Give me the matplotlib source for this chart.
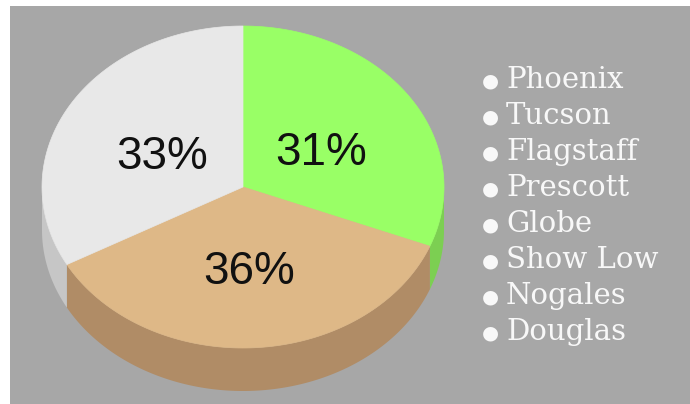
import numpy as np
import matplotlib.pyplot as plt
from matplotlib.patches import Polygon, Rectangle

# --- data ---
slice_values = [31, 36, 33]
slice_top_colors = ['#99ff66', '#deb887', '#e8e8e8']
slice_side_colors = ['#7ccf52', '#b08c66', '#c6c6c6']
legend_names = ['Phoenix', 'Tucson', 'Flagstaff', 'Prescott', 'Globe',
                'Show Low', 'Nogales', 'Douglas']

# --- layout (pixel space) ---
W, H = 690, 404
cx, cy = 243, 187
rx, ry = 201, 161
depth = 43

fig = plt.figure(figsize=(W / 100, H / 100), dpi=100)
fig.patch.set_facecolor('white')
ax = fig.add_axes([0, 0, 1, 1])
ax.set_xlim(0, W)
ax.set_ylim(H, 0)
ax.axis('off')

ax.add_patch(Rectangle((10, 6), W - 10, H - 6, facecolor='#a7a7a7', edgecolor='none'))


def ellipse_pts(t0, t1, dy=0, n=120):
    t = np.linspace(t0, t1, n)
    return np.column_stack([cx + rx * np.sin(t), cy - ry * np.cos(t) + dy])


# angles clockwise from 12 o'clock
fracs = np.array(slice_values) / sum(slice_values)
edges = np.concatenate([[0], np.cumsum(fracs)]) * 2 * np.pi

# sides (front half only: pi/2 .. 3pi/2)
for i in range(len(slice_values)):
    a0 = max(edges[i], np.pi / 2)
    a1 = min(edges[i + 1], 3 * np.pi / 2)
    if a1 <= a0:
        continue
    top = ellipse_pts(a0, a1)
    bot = ellipse_pts(a1, a0, dy=depth)
    ax.add_patch(Polygon(np.vstack([top, bot]), closed=True,
                         facecolor=slice_side_colors[i], edgecolor='none'))

# top faces
for i in range(len(slice_values)):
    arc = ellipse_pts(edges[i], edges[i + 1])
    pts = np.vstack([[cx, cy], arc])
    ax.add_patch(Polygon(pts, closed=True, facecolor=slice_top_colors[i],
                         edgecolor=slice_top_colors[i], linewidth=0.5))

# percentage labels
for i, v in enumerate(slice_values):
    mid = (edges[i] + edges[i + 1]) / 2
    f = 0.47
    ax.text(cx + rx * f * np.sin(mid), cy - ry * f * np.cos(mid) + 9, f'{v}%',
            ha='center', va='center', fontsize=33, color='#111111',
            family='Liberation Sans')

# legend
for k, name in enumerate(legend_names):
    y = 80 + k * 36
    ax.text(490, y + 1, '\u25cf', ha='center', va='center', fontsize=14,
            color='#f8f8f8', family='DejaVu Sans')
    ax.text(506, y, name, ha='left', va='center', fontsize=21,
            color='#f8f8f8', family='DejaVu Serif')

fig.savefig('out.png', dpi=100)
